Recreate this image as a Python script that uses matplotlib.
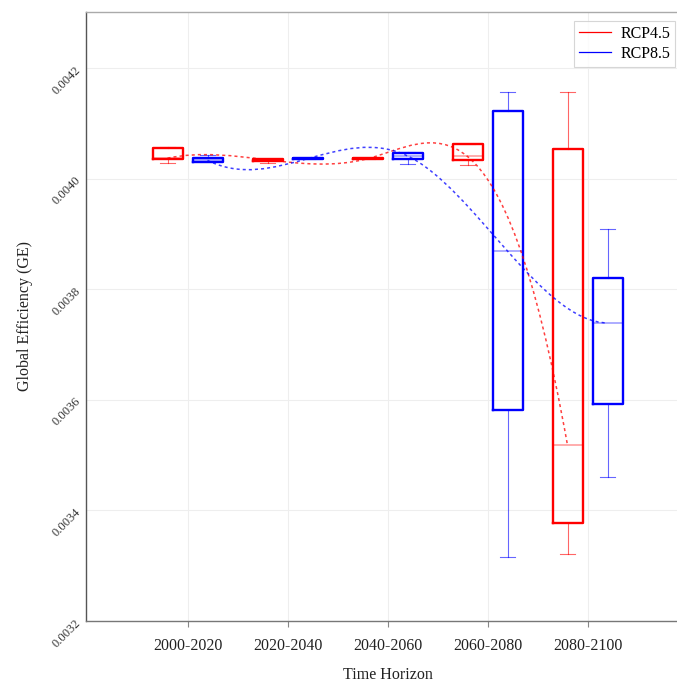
import numpy as np
import matplotlib
matplotlib.use("Agg")
import matplotlib.pyplot as plt
from matplotlib.path import Path
from matplotlib.patches import PathPatch
from matplotlib.lines import Line2D

# ---- data -------------------------------------------------------------
categories = ['2000-2020', '2020-2040', '2040-2060', '2060-2080', '2080-2100']

rcp45_min = [0.004028, 0.004028, 0.004035, 0.004025, 0.003322]
rcp45_q1 = [0.004036, 0.004031, 0.0040355, 0.004034, 0.003378]
rcp45_med = [0.004037, 0.004034, 0.004036, 0.004040, 0.003518]
rcp45_q3 = [0.004056, 0.004036, 0.0040365, 0.004063, 0.004053]
rcp45_max = [0.004058, 0.004036, 0.0040365, 0.004063, 0.004156]

rcp85_min = [0.004030, 0.0040355, 0.004026, 0.003316, 0.003460]
rcp85_q1 = [0.0040306, 0.0040355, 0.004035, 0.003581, 0.003592]
rcp85_med = [0.004033, 0.004036, 0.004041, 0.003869, 0.003739]
rcp85_q3 = [0.0040373, 0.0040365, 0.004046, 0.004123, 0.003821]
rcp85_max = [0.0040427, 0.0040365, 0.004049, 0.004156, 0.003908]

y_ticks = [0.0032, 0.0034, 0.0036, 0.0038, 0.0040, 0.0042]
y_tick_labels = ['0.0032', '0.0034', '0.0036', '0.0038', '0.0040', '0.0042']

series = [
    ('RCP4.5', '#ff0000', -0.2, rcp45_min, rcp45_q1, rcp45_med, rcp45_q3, rcp45_max),
    ('RCP8.5', '#0000ff', 0.2, rcp85_min, rcp85_q1, rcp85_med, rcp85_q3, rcp85_max),
]


def spline_path(xs, ys):
    """Not-a-knot cubic spline through the points, as a Bezier path."""
    xs = np.asarray(xs, float)
    ys = np.asarray(ys, float)
    y0 = ys.mean()
    yc = (ys - y0) * 1e6
    n = len(xs)
    m = n - 1
    A = np.zeros((4 * m, 4 * m))
    r = np.zeros(4 * m)
    row = 0
    h = np.diff(xs)
    for i in range(m):
        # value at both ends of segment i
        A[row, 4 * i] = 1
        r[row] = yc[i]
        row += 1
        A[row, 4 * i:4 * i + 4] = [1, h[i], h[i] ** 2, h[i] ** 3]
        r[row] = yc[i + 1]
        row += 1
    for i in range(m - 1):
        # first and second derivative continuity
        A[row, 4 * i:4 * i + 4] = [0, 1, 2 * h[i], 3 * h[i] ** 2]
        A[row, 4 * (i + 1) + 1] = -1
        row += 1
        A[row, 4 * i:4 * i + 4] = [0, 0, 2, 6 * h[i]]
        A[row, 4 * (i + 1) + 2] = -2
        row += 1
    # not-a-knot: third derivative continuous at second and second-to-last knots
    A[row, 3] = 1
    A[row, 7] = -1
    row += 1
    A[row, 4 * (m - 2) + 3] = 1
    A[row, 4 * (m - 1) + 3] = -1
    coef = np.linalg.solve(A, r)

    verts = [(xs[0], ys[0])]
    codes = [Path.MOVETO]
    for i in range(m):
        a, b, c, d = coef[4 * i:4 * i + 4]
        B, C, D = b * h[i], c * h[i] ** 2, d * h[i] ** 3
        p1 = a + B / 3
        p2 = a + 2 * B / 3 + C / 3
        p3 = a + B + C + D
        verts += [(xs[i] + h[i] / 3, p1 / 1e6 + y0),
                  (xs[i] + 2 * h[i] / 3, p2 / 1e6 + y0),
                  (xs[i + 1], p3 / 1e6 + y0)]
        codes += [Path.CURVE4] * 3
    return Path(verts, codes)


# ---- figure -----------------------------------------------------------
plt.rcParams['font.family'] = ['Liberation Serif', 'DejaVu Serif']
W, H = 677, 683
fig = plt.figure(figsize=(W / 100, H / 100), dpi=100)
ax = fig.add_axes([86 / W, 62 / H, 591 / W, 609 / H])
ax.set_xlim(-1.015, 4.895)
ax.set_ylim(0.0032, 0.0043013)

x = np.arange(len(categories))

handles = []
for name, color, off, lo, q1, med, q3, hi in series:
    stats = [dict(whislo=a, q1=b, med=c, q3=d, whishi=e, fliers=[])
             for a, b, c, d, e in zip(lo, q1, med, q3, hi)]
    ax.bxp(stats, positions=x + off, widths=0.3, capwidths=0.15,
           showfliers=False, patch_artist=False, manage_ticks=False,
           boxprops=dict(color=color, linewidth=1.7),
           whiskerprops=dict(color=color, linewidth=0.8, alpha=0.6),
           capprops=dict(color=color, linewidth=0.8, alpha=0.6),
           medianprops=dict(color=color, linewidth=1.3, alpha=0.35),
           zorder=3)
    ax.add_patch(PathPatch(spline_path(x + off, med), facecolor='none',
                           edgecolor=color, linewidth=1.1,
                           linestyle=(0, (2, 2)), alpha=0.75, zorder=4))
    handles.append(Line2D([], [], color=color, linewidth=0.9, label=name))

# ---- axes styling -----------------------------------------------------
ax.set_xticks(x)
ax.set_xticklabels(categories, fontsize=11.5, color='#222222')
ax.set_yticks(y_ticks)
ax.set_yticklabels(y_tick_labels, fontsize=9, color='#333333',
                   rotation=45, ha='right', va='center', rotation_mode='anchor')
ax.tick_params(axis='x', length=4, width=0.8, color='#888888', pad=8)
ax.tick_params(axis='y', length=0, pad=5)

ax.grid(True, color='#eeeeee', linewidth=0.8, zorder=0)
ax.set_axisbelow(True)

ax.spines['right'].set_visible(False)
ax.spines['top'].set_color('#aaaaaa')
ax.spines['top'].set_linewidth(1.0)
ax.spines['left'].set_color('#555555')
ax.spines['left'].set_linewidth(1.0)
ax.spines['bottom'].set_color('#777777')
ax.spines['bottom'].set_linewidth(1.0)

ax.set_xlabel('Time Horizon', fontsize=11.5, color='#222222')
ax.xaxis.set_label_coords(0.511, -0.076)
ax.set_ylabel('Global Efficiency (GE)', fontsize=11.5, color='#222222')
ax.yaxis.set_label_coords(-0.09, 0.5)

leg = fig.legend(handles=handles, loc='upper left',
                 bbox_to_anchor=(574 / W, 1 - 21 / H), borderaxespad=0,
                 fontsize=11.5, frameon=True, fancybox=False,
                 handlelength=2.0, handletextpad=0.6, labelspacing=0.25,
                 borderpad=0.3)
leg.get_frame().set_edgecolor('#cccccc')
leg.get_frame().set_linewidth(0.8)

fig.savefig('out.png', dpi=100)
